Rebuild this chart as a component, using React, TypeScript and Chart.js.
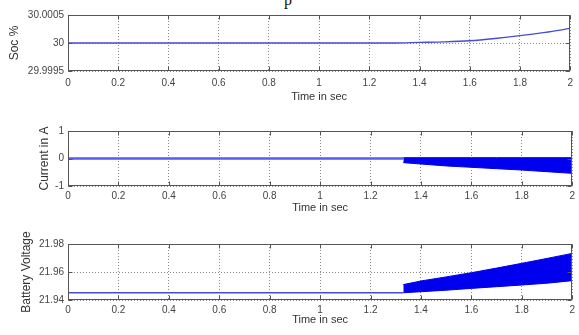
import React, { useEffect, useRef } from "react";
import { Chart, registerables } from "chart.js";

Chart.register(...registerables);

// ---------- data ----------
const TIME_TICKS = [0, 0.2, 0.4, 0.6, 0.8, 1, 1.2, 1.4, 1.6, 1.8, 2];
const TIME_LABELS = ["0", "0.2", "0.4", "0.6", "0.8", "1", "1.2", "1.4", "1.6", "1.8", "2"];

const SOC_TIME = [0, 1.3, 1.4, 1.5, 1.6, 1.7, 1.8, 1.9, 2.0];
const SOC_VALUES = [30, 30, 30.00001, 30.00002, 30.00004, 30.00008, 30.00013, 30.00019, 30.00026];
const SOC_TICKS = [29.9995, 30, 30.0005];
const SOC_LABELS = ["29.9995", "30", "30.0005"];

const CURRENT_FLAT_TIME = [0, 1.33];
const CURRENT_FLAT_VALUES = [0, 0];
const CURRENT_BAND_TIME = [1.33, 1.4, 1.5, 1.6, 1.7, 1.8, 1.9, 2.0];
const CURRENT_BAND_UPPER = [0.03, 0.03, 0.03, 0.03, 0.03, 0.03, 0.03, 0.03];
const CURRENT_BAND_LOWER = [-0.15, -0.2, -0.27, -0.32, -0.37, -0.42, -0.48, -0.54];
const CURRENT_TICKS = [-1, 0, 1];
const CURRENT_LABELS = ["-1", "0", "1"];

const VOLT_FLAT_TIME = [0, 1.33];
const VOLT_FLAT_VALUES = [21.9452, 21.9452];
const VOLT_BAND_TIME = [1.33, 1.4, 1.5, 1.6, 1.7, 1.8, 1.9, 2.0];
const VOLT_BAND_UPPER = [21.951, 21.9536, 21.9565, 21.9595, 21.9628, 21.9662, 21.9697, 21.9733];
const VOLT_BAND_LOWER = [21.9452, 21.9459, 21.947, 21.9483, 21.9495, 21.9507, 21.952, 21.9538];
const VOLT_TICKS = [21.94, 21.96, 21.98];
const VOLT_LABELS = ["21.94", "21.96", "21.98"];

const zip = (xs: number[], ys: number[]) => xs.map((x, i) => ({ x, y: ys[i] }));

// ---------- style ----------
const FONT = "'Liberation Sans', Arial, sans-serif";
const BLUE = "#0000ee";
const LINE_BLUE = "#4a4ad8";

const boxPlugin = {
  id: "matlabBox",
  afterDatasetsDraw(chart: any) {
    const { ctx, chartArea: a, scales } = chart;
    const l = Math.round(a.left) + 0.5;
    const r = Math.round(a.right) - 0.5;
    const t = Math.round(a.top) + 0.5;
    const b = Math.round(a.bottom) - 0.5;
    ctx.save();
    ctx.strokeStyle = "#555";
    ctx.lineWidth = 1;
    ctx.setLineDash([]);
    ctx.strokeRect(l, t, r - l, b - t);
    const tl = 4;
    ctx.beginPath();
    scales.x.ticks.forEach((tk: any) => {
      const px = Math.round(scales.x.getPixelForValue(tk.value)) + 0.5;
      ctx.moveTo(px, b);
      ctx.lineTo(px, b - tl);
      ctx.moveTo(px, t);
      ctx.lineTo(px, t + tl);
    });
    scales.y.ticks.forEach((tk: any) => {
      const py = Math.round(scales.y.getPixelForValue(tk.value)) + 0.5;
      ctx.moveTo(l, py);
      ctx.lineTo(l + tl, py);
      ctx.moveTo(r, py);
      ctx.lineTo(r - tl, py);
    });
    ctx.stroke();
    ctx.restore();
  },
};

type PanelProps = {
  top: number;
  height: number;
  padTop: number;
  xHeight: number;
  xTickPad: number;
  yTitle: string;
  yTitlePad: number;
  yMin: number;
  yMax: number;
  yTicks: number[];
  yLabels: string[];
  datasets: any[];
};

function Panel(p: PanelProps) {
  const ref = useRef<HTMLCanvasElement | null>(null);
  useEffect(() => {
    if (!ref.current) return;
    const grid = {
      color: "#8a8a8a",
      lineWidth: 1,
      drawTicks: false,
      tickBorderDash: [1, 2],
    };
    const chart = new Chart(ref.current, {
      type: "line",
      data: { datasets: p.datasets },
      options: {
        responsive: false,
        animation: false,
        events: [],
        layout: { padding: { top: p.padTop, right: 4, left: 0, bottom: 0 } },
        plugins: { legend: { display: false }, tooltip: { enabled: false } },
        elements: { point: { radius: 0 } },
        scales: {
          x: {
            type: "linear",
            min: 0,
            max: 2,
            afterBuildTicks: (s: any) => {
              s.ticks = TIME_TICKS.map((v) => ({ value: v }));
            },
            afterFit: (s: any) => {
              s.height = p.xHeight;
            },
            ticks: {
              autoSkip: false,
              maxRotation: 0,
              padding: p.xTickPad,
              color: "#444",
              font: { family: FONT, size: 10 },
              callback: (_v: any, i: number) => TIME_LABELS[i],
            },
            grid: { ...grid, borderDash: [1, 2] } as any,
            border: { display: false, dash: [1, 2] },
            title: {
              display: true,
              text: "Time in sec",
              color: "#333",
              font: { family: FONT, size: 11, lineHeight: 1.2 },
              padding: { top: 0, bottom: 1 },
            },
          },
          y: {
            type: "linear",
            min: p.yMin,
            max: p.yMax,
            afterBuildTicks: (s: any) => {
              s.ticks = p.yTicks.map((v) => ({ value: v }));
            },
            afterFit: (s: any) => {
              s.width = 68;
            },
            ticks: {
              autoSkip: false,
              padding: 4,
              color: "#444",
              font: { family: FONT, size: 10 },
              callback: (_v: any, i: number) => p.yLabels[i],
            },
            grid: { ...grid } as any,
            border: { display: false, dash: [1, 2] },
            title: {
              display: true,
              text: p.yTitle,
              color: "#333",
              font: { family: FONT, size: 12, lineHeight: 1.2 },
              padding: { top: p.yTitlePad, bottom: 0 },
            },
          },
        },
      } as any,
      plugins: [boxPlugin],
    });
    return () => chart.destroy();
  }, []);
  return (
    <canvas
      ref={ref}
      width={579}
      height={p.height}
      style={{ position: "absolute", left: 0, top: p.top, width: 579, height: p.height }}
    />
  );
}

const lineDs = (data: any[], color: string, width: number, extra: any = {}) => ({
  data,
  borderColor: color,
  backgroundColor: color,
  borderWidth: width,
  pointRadius: 0,
  fill: false,
  ...extra,
});

export default function App() {
  const socDatasets = [
    lineDs(zip(SOC_TIME, SOC_VALUES), LINE_BLUE, 1.3, { cubicInterpolationMode: "monotone" }),
  ];
  const currentDatasets = [
    lineDs(zip(CURRENT_FLAT_TIME, CURRENT_FLAT_VALUES), "#5a5af0", 2.5),
    lineDs(zip(CURRENT_BAND_TIME, CURRENT_BAND_UPPER), BLUE, 1, { fill: "+1" }),
    lineDs(zip(CURRENT_BAND_TIME, CURRENT_BAND_LOWER), BLUE, 1),
  ];
  const voltDatasets = [
    lineDs(zip(VOLT_FLAT_TIME, VOLT_FLAT_VALUES), LINE_BLUE, 1.5),
    lineDs(zip(VOLT_BAND_TIME, VOLT_BAND_UPPER), BLUE, 1, { fill: "+1" }),
    lineDs(zip(VOLT_BAND_TIME, VOLT_BAND_LOWER), BLUE, 1),
  ];
  return (
    <div
      style={{
        position: "absolute",
        left: 0,
        top: 0,
        width: 579,
        height: 335,
        background: "#fff",
        overflow: "hidden",
      }}
    >
      <div
        style={{
          position: "absolute",
          left: 284,
          top: -9,
          fontFamily: "'Liberation Serif', serif",
          fontSize: 16,
          color: "#111",
        }}
      >
        p
      </div>
      <Panel
        top={0}
        height={105}
        padTop={15}
        xHeight={34}
        xTickPad={6}
        yTitle="Soc %"
        yTitlePad={7.8}
        yMin={29.9995}
        yMax={30.0005}
        yTicks={SOC_TICKS}
        yLabels={SOC_LABELS}
        datasets={socDatasets}
      />
      <Panel
        top={110}
        height={106}
        padTop={21}
        xHeight={30}
        xTickPad={4}
        yTitle="Current in A"
        yTitlePad={37.8}
        yMin={-1}
        yMax={1}
        yTicks={CURRENT_TICKS}
        yLabels={CURRENT_LABELS}
        datasets={currentDatasets}
      />
      <Panel
        top={224}
        height={104}
        padTop={20}
        xHeight={28}
        xTickPad={4}
        yTitle="Battery Voltage"
        yTitlePad={19.8}
        yMin={21.94}
        yMax={21.98}
        yTicks={VOLT_TICKS}
        yLabels={VOLT_LABELS}
        datasets={voltDatasets}
      />
    </div>
  );
}
